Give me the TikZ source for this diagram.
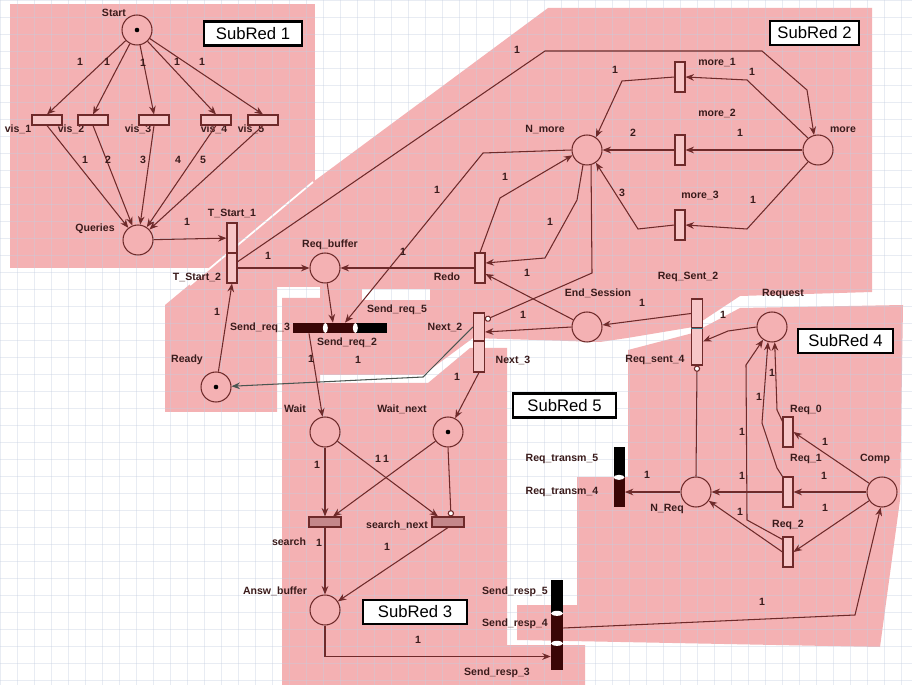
\documentclass[tikz,border=0pt]{standalone}
\usepackage{fontspec}
\setmainfont{Liberation Sans}
\usetikzlibrary{arrows.meta, calc, positioning}
\definecolor{NetR}  {HTML}{6E2A2A}
\definecolor{TxtD}  {HTML}{3A1B1B}
\definecolor{PinkB} {HTML}{F4B1B3}
\definecolor{PinkL} {HTML}{F7C6C7}
\definecolor{RoseT} {HTML}{C4878A}
\definecolor{BarM}  {HTML}{3A0606}
\definecolor{GridC} {HTML}{C4CFE0}
\definecolor{SlateL}{HTML}{4A5550}
\definecolor{TealD} {HTML}{3C7E8C}
\tikzset{
  place/.style={
    circle, draw=NetR, fill=PinkB,
    minimum size=0.6cm, inner sep=0pt, line width=0.6pt,
  },
  trv/.style={
    rectangle, draw=NetR, fill=PinkL,
    minimum width=0.2cm, minimum height=0.6cm,
    inner sep=0pt, line width=0.6pt,
  },
  trh/.style={trv, minimum width=0.64cm, minimum height=0.2cm},
  bar/.style args={#1/#2/#3}{
    rectangle, fill=#1, draw=none, inner sep=0pt,
    minimum width=#2, minimum height=#3,
  },
  token/.style={circle, fill=black, inner sep=0pt, minimum size=2.6pt},
  arc/.style={
    -{Stealth[length=4.8pt,width=3.8pt]},
    line width=0.6pt, draw=NetR,
  },
  inh/.style={
    -{Circle[length=3.6pt,fill=white]},
    line width=0.6pt, draw=NetR,
  },
  lbl/.style={
    font=\fontsize{6}{7}\selectfont\bfseries, text=TxtD, inner sep=0pt,
  },
  subred/.style={
    rectangle, draw=black, fill=white, line width=1.4pt,
    font=\fontsize{9.5}{11}\selectfont, inner sep=0pt,
    minimum height=0.48cm,
  },
}
\begin{document}
\begin{tikzpicture}[x=0.02cm,y=-0.02cm]
  \useasboundingbox (0,0) rectangle (912,685);
  \fill[white] (0,0) rectangle (912,685);
  % sub-net regions
  \fill[PinkB] (10,4) rectangle (315,268);
  \fill[PinkB] (165,412) -- (165,305) -- (313,182) -- (548,8) -- (872,8)
    -- (872,292) -- (740,296) -- (693,327) -- (627,338) -- (600,342)
    -- (473,338) -- (423,375) -- (320,375) -- (320,287) -- (277,287)
    -- (277,412) -- cycle;
  \fill[white] (362,289) rectangle (430,300);
  \fill[PinkB] (282,298) -- (320,298) -- (320,383) -- (428,383) -- (470,348)
    -- (507,348) -- (507,645) -- (585,645) -- (585,685) -- (282,685) -- cycle;
  \fill[PinkB] (628,350) -- (693,333) -- (740,308) -- (903,305) -- (900,500)
    -- (880,647) -- (517,640) -- (517,605) -- (577,605) -- (577,477)
    -- (628,477) -- cycle;
  \draw[white, line width=1pt] (190,285) -- (313,182);
  % grid
  \foreach \gx in {0,17,...,912}
    \draw[GridC, opacity=0.38, line width=0.3pt] (\gx,0) -- (\gx,685);
  \foreach \gy in {0,17,...,685}
    \draw[GridC, opacity=0.38, line width=0.3pt] (0,\gy) -- (912,\gy);

  % labels
  \foreach \nm/\x/\y/\txt in {lstart/114/13/Start, lqueries/95/229/Queries,
      lreqbuf/330/245/Req\_buffer, lnmore/545/130/N\_more, lmore/843/130/more,
      lready/187/360/Ready, lendses/598/293/End\_Session, lrequest/783/294/Request,
      lwait/295/409/Wait, lwaitnext/402/409/Wait\_next, lanswbuf/275/591/Answ\_buffer,
      lnreq/667/509/N\_Req, lcomp/875/459/Comp,
      lvis1/18/129/vis\_1, lvis2/71/129/vis\_2, lvis3/138/129/vis\_3,
      lvis4/214/129/vis\_4, lvis5/251/129/vis\_5,
      ltst1/232/213/T\_Start\_1, ltst2/197/277/T\_Start\_2, lredo/447/277/Redo,
      lmore1/717/63/more\_1, lmore2/717/113/more\_2, lmore3/700/195/more\_3,
      lreqs2/688/277/Req\_Sent\_2, lreqs4/655/360/Req\_sent\_4,
      lnext2/445/327/Next\_2, lnext3/513/360/Next\_3,
      lsr3/260/328/Send\_req\_3, lsr2/347/343/Send\_req\_2, lsr5/397/310/Send\_req\_5,
      lsearch/289/542/search, lsearchnext/397/525/search\_next,
      lrt5/562/459/Req\_transm\_5, lrt4/562/492/Req\_transm\_4,
      lsp5/515/592/Send\_resp\_5, lsp4/515/624/Send\_resp\_4, lsp3/497/673/Send\_resp\_3,
      lreq0/806/410/Req\_0, lreq1/806/459/Req\_1, lreq2/788/525/Req\_2}{
    \node[lbl] (\nm) at (\x,\y) {\txt};
  }

  % places
  \node[place] (start)    at (137,30)  {};
  \node[place] (queries)  at (138,240) {};
  \node[place] (reqbuf)   at (325,268) {};
  \node[place] (nmore)    at (587,150) {};
  \node[place] (more)     at (818,150) {};
  \node[place] (ready)    at (216,387) {};
  \node[place] (endses)   at (587,327) {};
  \node[place] (request)  at (772,327) {};
  \node[place] (wait)     at (325,432) {};
  \node[place] (waitnext) at (448,432) {};
  \node[place] (answbuf)  at (325,610) {};
  \node[place] (nreq)     at (696,492) {};
  \node[place] (comp)     at (882,492) {};
  \node[token] (tkstart) at (start) {};
  \node[token] (tkready) at (ready) {};
  \node[token] (tkwait)  at (waitnext) {};

  % transitions
  \foreach \v/\x in {1/47, 2/93, 3/154, 4/216, 5/263}
    \node[trh, minimum width=0.6cm] (vis\v) at (\x,120) {};
  \node[trv] (tst1)  at (232,238) {};
  \node[trv] (tst2)  at (232,268) {};
  \node[trv] (redo)  at (480,268) {};
  \node[trv] (more1) at (680,77)  {};
  \node[trv] (more2) at (680,150) {};
  \node[trv] (more3) at (680,225) {};
  \node[trv, minimum width=0.22cm, minimum height=0.56cm] (next2) at (479,327)   {};
  \node[trv, minimum width=0.22cm, minimum height=0.62cm] (next3) at (479,356.5) {};
  \node[trv, minimum width=0.22cm, minimum height=0.58cm] (reqs2) at (697,313.5) {};
  \node[trv, minimum width=0.22cm, minimum height=0.74cm] (reqs4) at (697,346.5) {};
  \draw[TealD, line width=0.8pt] (reqs2.south west) -- (reqs2.south east);
  \node[trh, fill=RoseT] (search)     at (325,522) {};
  \node[trh, fill=RoseT] (searchnext) at (448,522) {};
  \node[trv] (req0) at (788,432) {};
  \node[trv] (req1) at (788,492) {};
  \node[trv] (req2) at (788,552) {};

  % fused transitions
  \node[bar=BarM/0.64cm/0.2cm]  (sr3) at (309,328) {};
  \node[bar=BarM/0.6cm/0.2cm]   (sr2) at (340,328) {};
  \node[bar=black/0.64cm/0.2cm] (sr5) at (371,328) {};
  \node[bar=black/0.22cm/0.6cm] (rt5) at (619,462) {};
  \node[bar=BarM/0.22cm/0.6cm]  (rt4) at (619,492) {};
  \node[bar=black/0.24cm/0.66cm] (sp5) at (557,596.5) {};
  \node[bar=BarM/0.24cm/0.6cm]   (sp4) at (557,628)   {};
  \node[bar=BarM/0.24cm/0.54cm]  (sp3) at (557,656.5) {};
  \fill[white] (sr3.east) ellipse [x radius=2.5, y radius=5];
  \fill[white] (sr2.east) ellipse [x radius=2.5, y radius=5];
  \fill[white] (rt5.south) ellipse [x radius=5.5, y radius=2.5];
  \fill[white] (sp5.south) ellipse [x radius=6, y radius=2.5];
  \fill[white] (sp4.south) ellipse [x radius=6, y radius=2.5];

  % arcs
  \foreach \v in {1,...,5}{
    \draw[arc] (start) -- (vis\v.north);
    \draw[arc] (vis\v.south) -- (queries);
  }
  \draw[arc] (queries) -- (tst1);
  \draw[arc] (tst2.east) -- (reqbuf);
  \draw[arc] ($(tst2.north east)!0.3!(tst2.south east)$) -- (545,51) -- (762,51)
    -- (807,90) -- (more.105);
  \draw[arc] (ready) -- (tst2.south);
  \draw[arc] (reqbuf) -- ($(sr2.north west)!0.27!(sr2.north east)$);
  \draw[arc] (nmore.west) -- (483,153) -- ($(sr2.north)+(5,0)$);
  \draw[arc] (redo.west) -- (reqbuf);
  \draw[arc] (redo.north) -- (500,198) -- (nmore.200);
  \draw[arc] (nmore.255) -- (577,200) -- (545,258) -- ($(redo.east)+(0,-5)$);
  \draw[arc] (endses) -- ($(redo.east)+(0,6)$);
  \draw[arc] (endses.west) -- ($(next2.east)+(0,5)$);
  \draw[inh] (nmore.285) -- (592,273) -- ($(next2.east)+(0,-7)$);
  \draw[arc] (more.130) -- (747,80) -- (more1.east);
  \draw[arc] (more1.west) -- (622,81) -- (nmore.55);
  \draw[arc] (more) -- (more2);
  \draw[arc] (more2) -- (nmore);
  \draw[arc] (more.230) -- (747,229) -- (more3.east);
  \draw[arc] (more3.west) -- (638,229) -- (nmore.-55);
  \draw[arc] (reqs2.west) -- (endses);
  \draw[arc] (request.west) -- (728,331) -- ($(reqs4.east)+(0,-5)$);
  \draw[inh] (nreq.north) -- (reqs4.south);
  \draw[arc, draw=SlateL] (next2.west) -- (423,377) -- (ready);
  \draw[arc] (next3.south) -- (waitnext);
  \draw[arc] (sr3.south) -- (wait);
  \draw[arc] (wait.south) -- (search.north);
  \draw[arc] (wait) -- ($(searchnext.north)+(-10,0)$);
  \draw[arc] (waitnext) -- ($(search.north)+(8,0)$);
  \draw[inh] (waitnext.south) -- ($(searchnext.north)+(3,0)$);
  \draw[arc] (search.south) -- (answbuf);
  \draw[arc] (searchnext.south) -- (answbuf);
  \draw[arc] (answbuf.south) |- (sp3.west);
  \draw[arc] (comp) -- (req0.east);
  \draw[arc] (comp) -- (req1.east);
  \draw[arc] (comp) -- (req2.east);
  \draw[arc] (req1.west) -- (nreq);
  \draw[arc] (req2.west) -- (nreq);
  \draw[arc] ($(req0.north west)+(0,5)$) -- (777,410) -- (request.-80);
  \draw[arc] (req1.north west) -- (777,468) -- (762,423) -- (request.-105);
  \draw[arc] ($(req2.north west)+(0,3)$) -- (747,520) -- (746,365) -- (request.-125);
  \draw[arc] (nreq.west) -- (rt4.east);
  \draw[arc] (sp4.east) -- (855,615) -- (comp.-95);

  % arc weights
  \foreach \x/\y/\txt [count=\i] in {80/62/1, 107/62/1, 143/63/1, 177/62/1, 202/62/1,
      85/160/1, 108/160/2, 143/160/3, 178/160/4, 203/160/5,
      187/222/1, 268/256/1, 517/50/1, 217/312/1, 437/190/1, 403/252/1,
      505/177/1, 550/222/1, 752/72/1, 615/70/1, 740/133/1, 633/133/2,
      753/200/1, 622/193/3, 527/273/1, 523/315/1, 642/303/1, 723/315/1,
      358/360/1, 457/377/1, 311/359/1, 317/465/1, 378/459/1, 386/459/1,
      319/543/1, 387/547/1, 418/640/1, 647/475/1, 825/442/1, 824/476/1,
      825/508/1, 742/476/1, 740/512/1, 772/373/1, 759/397/1, 742/432/1,
      762/602/1}{
    \node[lbl] (w\i) at (\x,\y) {\txt};
  }

  % sub-net tags
  \node[subred, minimum width=1.96cm] (sub1) at (253,33.5)   {SubRed 1};
  \node[subred, minimum width=1.78cm] (sub2) at (814.5,33)   {SubRed 2};
  \node[subred, minimum width=2.08cm] (sub3) at (415,612)    {SubRed 3};
  \node[subred, minimum width=1.9cm]  (sub4) at (845.5,341)  {SubRed 4};
  \node[subred, minimum width=2.06cm] (sub5) at (564.5,405.5) {SubRed 5};
\end{tikzpicture}
\end{document}
